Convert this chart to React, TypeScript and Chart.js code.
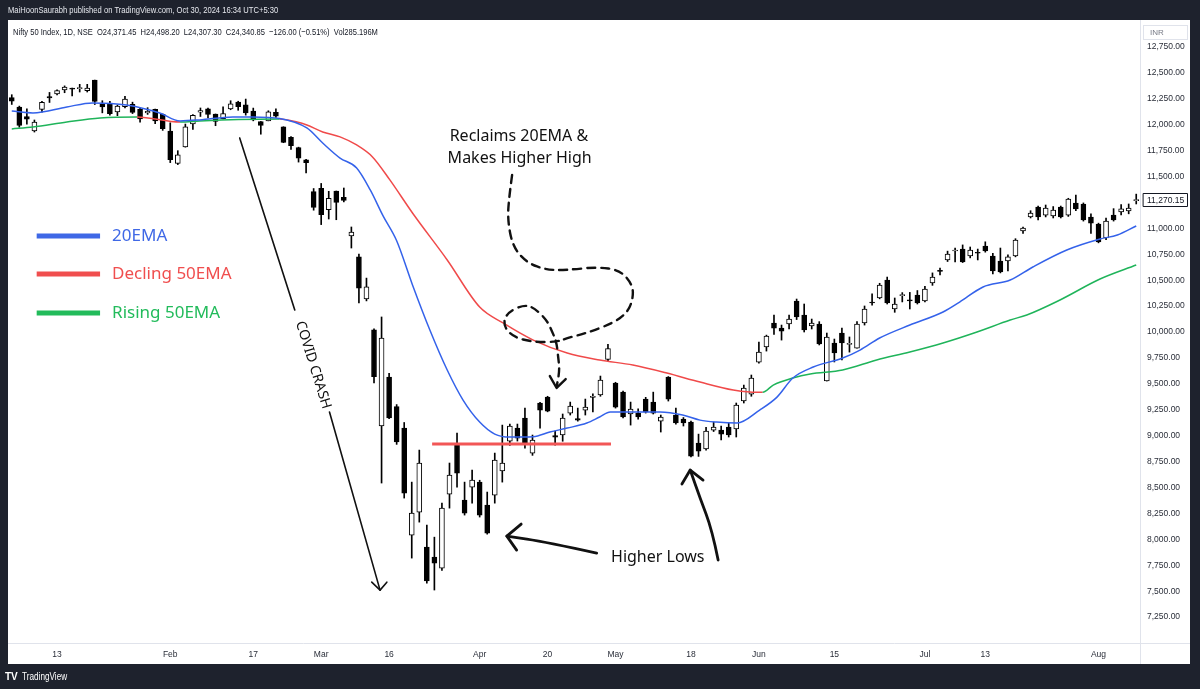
import React, { useEffect, useRef } from "react";
import { Chart, registerables } from "chart.js";

Chart.register(...registerables);

// ---- Daily candles, Nifty 50 (Jan 3 2020 .. Aug 10 2020), index = trading day ----
const opens = [
  12261, 12170, 12079, 11939, 12148, 12272, 12296, 12334, 12349, 12347, 12329, 12430, 12196, 12196, 12123, 12174, 12197, 12149, 12114, 12147,
  12100, 11939, 11627, 11786, 12006, 12120, 12152, 12102, 12058, 12151, 12219, 12191, 12131, 12029, 12037, 12119, 11980, 11877, 11779, 11660,
  11354, 11387, 11180, 11360, 11300, 10926, 10724, 10320, 10020, 9093, 9566, 9280, 9073, 8041, 8263, 7925, 7829, 7722, 8436, 8909,
  8378, 8504, 8552, 8330, 8427, 8659, 8948, 9073, 9170, 8832, 9315, 9372, 9000, 9006, 9218, 9165, 9247, 9370, 9392, 9735,
  9508, 9421, 9209, 9218, 9353, 9324, 9141, 9566, 9199, 9160, 9131, 8929, 8871, 9054, 9054, 9083, 9064, 9334, 9401, 9710,
  9855, 10087, 10038, 10077, 10299, 10164, 10058, 10077, 9527, 9894, 9990, 9880, 9845, 10087, 10285, 10328, 10500, 10222, 10350, 10305,
  10357, 10299, 10473, 10590, 10695, 10781, 10801, 10733, 10768, 10830, 10733, 10685, 10685, 10733, 10974, 11109, 11206, 11128, 11119, 11206,
  11128, 11244, 11235, 11109, 11042, 10907, 11128, 11158, 11167, 11268,
];
const highs = [
  12289, 12179, 12152, 12045, 12226, 12311, 12337, 12374, 12354, 12389, 12389, 12430, 12231, 12226, 12190, 12273, 12217, 12163, 12164, 12151,
  12103, 12018, 11749, 12006, 12098, 12161, 12160, 12103, 12172, 12231, 12226, 12247, 12160, 12031, 12134, 12152, 11980, 11884, 11783, 11665,
  11384, 11433, 11357, 11360, 11389, 11013, 10751, 10520, 10030, 10145, 9602, 9300, 9127, 8552, 8861, 8137, 8021, 8349, 8736, 9025,
  8552, 8668, 8570, 8456, 8832, 9102, 9112, 9112, 9266, 9006, 9322, 9380, 9044, 9209, 9324, 9266, 9353, 9404, 9575, 9880,
  9515, 9430, 9324, 9260, 9370, 9420, 9199, 9570, 9266, 9175, 9140, 9015, 9080, 9131, 9093, 9120, 9315, 9488, 9585, 9903,
  9970, 10164, 10067, 10164, 10318, 10270, 10125, 10100, 9990, 9932, 10038, 9952, 10100, 10251, 10367, 10470, 10530, 10328, 10380, 10382,
  10400, 10440, 10570, 10617, 10780, 10810, 10840, 10820, 10800, 10870, 10760, 10810, 10745, 10900, 11013, 11170, 11215, 11225, 11210, 11215,
  11290, 11320, 11245, 11140, 11050, 11100, 11190, 11230, 11235, 11330,
];
const lows = [
  12195, 11975, 12005, 11929, 12121, 12214, 12286, 12308, 12278, 12315, 12315, 12194, 12114, 12091, 12087, 12162, 12107, 12024, 12099, 12010,
  11945, 11634, 11615, 11783, 11953, 12079, 12066, 11990, 12055, 12144, 12139, 12092, 12037, 11908, 12037, 12071, 11826, 11761, 11639, 11535,
  11175, 11036, 11090, 11083, 11255, 10810, 10280, 10300, 9510, 8543, 9165, 8916, 8398, 7819, 8166, 7578, 7511, 7700, 8301, 8504,
  8234, 8349, 8215, 8050, 8349, 8552, 8905, 8948, 8880, 8810, 9073, 9230, 8909, 8946, 9199, 9140, 9199, 9230, 9380, 9715,
  9266, 9170, 9102, 9160, 9218, 9209, 9035, 9334, 9112, 9093, 8795, 8800, 8860, 9040, 8958, 8987, 8987, 9315, 9380, 9700,
  9816, 9976, 9922, 10029, 10120, 10000, 10029, 9875, 9527, 9711, 9730, 9806, 9845, 10067, 10260, 10320, 10270, 10190, 10290, 10222,
  10270, 10290, 10450, 10550, 10680, 10676, 10670, 10715, 10695, 10770, 10560, 10570, 10590, 10725, 10950, 11100, 11080, 11110, 11100, 11100,
  11115, 11170, 11070, 10950, 10860, 10890, 11070, 11130, 11140, 11235,
];
const closes = [
  12226, 11993, 12053, 12025, 12216, 12257, 12330, 12362, 12343, 12355, 12352, 12224, 12170, 12107, 12180, 12248, 12119, 12055, 12129, 12035,
  11962, 11662, 11708, 11980, 12089, 12137, 12098, 12031, 12108, 12201, 12174, 12113, 12046, 11993, 12125, 12081, 11829, 11798, 11678, 11633,
  11202, 11132, 11290, 11251, 11270, 10965, 10424, 10435, 9570, 9942, 9170, 8940, 8446, 8253, 8736, 7600, 7771, 8301, 8620, 8639,
  8253, 8571, 8234, 8060, 8765, 8736, 9093, 8977, 8929, 8958, 9247, 9237, 8985, 9170, 9286, 9150, 9276, 9380, 9537, 9840,
  9276, 9180, 9257, 9180, 9228, 9218, 9180, 9353, 9122, 9122, 8803, 8851, 9044, 9083, 9015, 9006, 9295, 9459, 9556, 9807,
  9961, 10038, 10009, 10125, 10145, 10019, 10087, 9884, 9952, 9797, 9894, 9886, 10077, 10222, 10280, 10453, 10280, 10270, 10360, 10300,
  10280, 10415, 10530, 10585, 10752, 10790, 10675, 10791, 10760, 10781, 10588, 10579, 10724, 10887, 11003, 11148, 11109, 11196, 11177, 11109,
  11283, 11187, 11080, 11051, 10868, 11071, 11080, 11187, 11196, 11270.15,
];

// ---- time axis ----
const tickIdx = [6, 21, 32, 41, 50, 62, 71, 80, 90, 99, 109, 121, 129, 144];
const tickText = ["13", "Feb", "17", "Mar", "16", "Apr", "20", "May", "18", "Jun", "15", "Jul", "13", "Aug"];

// ---- moving averages: [day index, price] ----
const ema20 = [
  [0, 12132], [2.8, 12113], [7.3, 12171], [10.7, 12210], [15.2, 12190], [19.6, 12113], [22.3, 12036], [24.9, 12046],
  [29.3, 12075], [31.9, 12075], [35.5, 12060], [39.1, 11968], [41.2, 11823], [43.5, 11678], [45.7, 11582], [47.5, 11370],
  [49.2, 11120], [51, 10880], [53.1, 10454], [55.4, 10019], [57.7, 9633], [59.8, 9343], [62, 9131], [64, 9015], [66, 8986],
  [69.1, 8990], [71.3, 9035], [73.6, 9073], [76.2, 9122], [77.9, 9180], [79.3, 9228], [82.3, 9228], [85.9, 9228], [88.9, 9199],
  [91.2, 9150], [93.4, 9131], [96.1, 9122], [99.1, 9247], [101.4, 9372], [103.5, 9556], [106.2, 9662], [110.1, 9749],
  [112.4, 9826], [115, 9942], [119, 10067], [123.4, 10193], [125.6, 10289], [128.7, 10434], [132.3, 10501], [135.3, 10627],
  [139.8, 10791], [144.2, 10897], [146.5, 10936], [149, 11023],
];
const ema50 = [
  [0, 11959], [2.8, 11978], [7.3, 12026], [11.7, 12065], [16.6, 12075], [22.3, 12026], [24.9, 12036], [30, 12050],
  [35.5, 12055], [37.8, 12026], [39.1, 11997], [41.2, 11930], [43.5, 11882], [45.7, 11804], [47.8, 11689], [50.1, 11467],
  [53.1, 11148], [57.7, 10695], [62, 10241], [65.1, 10087], [69.1, 9922], [73.6, 9797], [77.9, 9730], [82.3, 9681],
  [86.8, 9604], [91.2, 9517], [95.6, 9440], [97.8, 9421], [99.5, 9418], [100.9, 9488], [103.5, 9556], [105.8, 9595],
  [110.1, 9633], [114.6, 9730], [119, 9807], [123.4, 9894], [127.9, 10000], [132.3, 10116], [134.5, 10164], [138.9, 10309],
  [144.2, 10511], [149, 10646],
];

// ---- drawn-on annotations (day index, price) ----
const supportLine = { from: 55.7, to: 79.4, price: 8920 };
const legendItems = [
  { label: "20EMA", color: "#3f68e6", price: 10926 },
  { label: "Decling 50EMA", color: "#f04e4e", price: 10559 },
  { label: "Rising 50EMA", color: "#22bb5b", price: 10183 },
];
const dashedPath = [
  [66.3, 11515], [65.9, 11302], [65.7, 11081], [66.4, 10820], [68.3, 10666], [70.9, 10598], [73.6, 10598], [77.5, 10627],
  [80.6, 10598], [82.3, 10453], [82.3, 10309], [81.5, 10183], [79.7, 10087], [76.2, 9990], [73.6, 9942], [72.2, 9903],
  [69.1, 9903], [66.4, 9952], [65.1, 10067], [65.6, 10183], [67.7, 10260], [69.1, 10241], [70.9, 10116], [71.7, 9990],
  [72.2, 9894], [72.4, 9759], [72.6, 9633], [72.2, 9470],
];
const dashedHead = [[71.3, 9575], [72.2, 9460], [73.4, 9546]];
const crashUpper = [[30.2, 11872], [37.5, 10212]];
const crashLower = [[42.1, 9228], [48.8, 7510]];
const crashHead = [[47.7, 7587], [48.8, 7510], [49.7, 7587]];
const lowArrow1 = [[77.5, 7867], [70.9, 7973], [65.6, 8031]];
const lowHead1 = [[67.5, 8147], [65.6, 8031], [66.9, 7896]];
const lowArrow2 = [[93.6, 7800], [92.8, 8089], [91.2, 8398], [89.9, 8668]];
const lowHead2 = [[88.8, 8533], [89.9, 8668], [91.6, 8572]];

const BLUE = "#3462ea";
const RED = "#f04a4a";
const GREEN = "#1fb45a";
const UI = '"Liberation Sans", Arial, sans-serif';
const HAND = '"Noto Sans", sans-serif';

function condensedText(c: CanvasRenderingContext2D, text: string, x: number, y: number, sx: number) {
  c.save();
  c.translate(x, y);
  c.scale(sx, 1);
  c.fillText(text, 0, 0);
  c.restore();
}

const frame = {
  id: "frame",
  beforeDraw(chart: any) {
    const c = chart.ctx;
    c.save();
    c.fillStyle = "#1e222d";
    c.fillRect(0, 0, 1200, 689);
    c.fillStyle = "#ffffff";
    c.fillRect(8, 20, 1182, 644);
    c.fillStyle = "#e6e8ee";
    c.font = `9.5px ${UI}`;
    c.textBaseline = "middle";
    condensedText(c, "MaiHoonSaurabh published on TradingView.com, Oct 30, 2024 16:34 UTC+5:30", 8, 10, 0.8);
    c.fillStyle = "#131722";
    condensedText(
      c,
      "Nifty 50 Index, 1D, NSE  O24,371.45  H24,498.20  L24,307.30  C24,340.85  \u2212126.00 (\u22120.51%)  Vol285.196M",
      13,
      32,
      0.795
    );
    // axis separators
    c.strokeStyle = "#e0e3eb";
    c.lineWidth = 1;
    c.beginPath();
    c.moveTo(1140.5, 20);
    c.lineTo(1140.5, 664);
    c.moveTo(8, 643.5);
    c.lineTo(1190, 643.5);
    c.stroke();
    // currency box
    c.strokeStyle = "#e0e3eb";
    c.strokeRect(1143.5, 25.5, 44, 14);
    c.fillStyle = "#787b86";
    c.font = `8px ${UI}`;
    c.fillText("INR", 1150, 33);
    // footer
    c.fillStyle = "#ffffff";
    c.font = `bold 10px ${UI}`;
    c.fillText("TV", 5, 677);
    c.font = `10px ${UI}`;
    condensedText(c, "TradingView", 22, 677, 0.82);
    c.restore();
  },
};

function smooth(c: CanvasRenderingContext2D, pts: number[][]) {
  c.beginPath();
  c.moveTo(pts[0][0], pts[0][1]);
  for (let i = 1; i < pts.length - 1; i++) {
    const mx = (pts[i][0] + pts[i + 1][0]) / 2;
    const my = (pts[i][1] + pts[i + 1][1]) / 2;
    c.quadraticCurveTo(pts[i][0], pts[i][1], mx, my);
  }
  const l = pts[pts.length - 1];
  c.lineTo(l[0], l[1]);
  c.stroke();
}

function poly(c: CanvasRenderingContext2D, pts: number[][]) {
  c.beginPath();
  pts.forEach((p, i) => (i ? c.lineTo(p[0], p[1]) : c.moveTo(p[0], p[1])));
  c.stroke();
}

const annotations = {
  id: "annotations",
  afterDraw(chart: any) {
    const c: CanvasRenderingContext2D = chart.ctx;
    const xs = chart.scales.x;
    const ys = chart.scales.y;
    const P = (p: number[]) => [xs.getPixelForValue(p[0]), ys.getPixelForValue(p[1])];
    c.save();
    c.lineCap = "round";
    c.lineJoin = "round";

    // support line
    c.strokeStyle = "#f25656";
    c.lineWidth = 3;
    c.lineCap = "butt";
    poly(c, [P([supportLine.from, supportLine.price]), P([supportLine.to, supportLine.price])]);
    c.lineCap = "round";

    // legend
    legendItems.forEach((it) => {
      const [x0, y] = P([3.3, it.price]);
      const [x1] = P([11.7, it.price]);
      c.strokeStyle = it.color;
      c.lineWidth = 5;
      c.lineCap = "butt";
      poly(c, [[x0, y], [x1, y]]);
      c.fillStyle = it.color;
      c.font = `17px ${HAND}`;
      c.textBaseline = "middle";
      c.textAlign = "left";
      c.fillText(it.label, x1 + 12, y);
    });
    c.lineCap = "round";

    // texts
    c.fillStyle = "#111111";
    c.font = `16px ${HAND}`;
    c.textAlign = "center";
    c.textBaseline = "middle";
    let p = P([67.2, 11882]);
    c.fillText("Reclaims 20EMA &", p[0], p[1]);
    p = P([67.3, 11679]);
    c.fillText("Makes Higher High", p[0], p[1]);
    p = P([85.6, 7829]);
    c.fillText("Higher Lows", p[0], p[1]);

    // COVID CRASH line + text
    c.strokeStyle = "#111111";
    c.lineWidth = 1.6;
    const u = crashUpper.map(P);
    const l = crashLower.map(P);
    poly(c, u);
    poly(c, l);
    poly(c, crashHead.map(P));
    const ang = Math.atan2(l[1][1] - u[0][1], l[1][0] - u[0][0]);
    const cx = (u[1][0] + l[0][0]) / 2 + 1;
    const cy = (u[1][1] + l[0][1]) / 2 + 4;
    c.save();
    c.translate(cx, cy);
    c.rotate(ang);
    c.font = `14px ${HAND}`;
    c.fillText("COVID CRASH", 0, 0);
    c.restore();

    // dashed loop arrow
    c.lineWidth = 2.4;
    c.setLineDash([8, 6]);
    smooth(c, dashedPath.map(P));
    c.setLineDash([]);
    poly(c, dashedHead.map(P));

    // higher lows arrows
    c.lineWidth = 2.8;
    smooth(c, lowArrow1.map(P));
    poly(c, lowHead1.map(P));
    smooth(c, lowArrow2.map(P));
    poly(c, lowHead2.map(P));

    // last price label
    const last = closes[closes.length - 1];
    const ly = ys.getPixelForValue(last);
    c.fillStyle = "#ffffff";
    c.fillRect(1143, ly - 7, 45, 14);
    c.strokeStyle = "#131722";
    c.lineWidth = 1;
    c.strokeRect(1143.5, Math.round(ly - 7) + 0.5, 44, 13);
    c.fillStyle = "#131722";
    c.font = `8.5px ${UI}`;
    c.textAlign = "left";
    c.fillText(last.toLocaleString("en-US", { minimumFractionDigits: 2 }), 1147, Math.round(ly) + 0.5);
    c.restore();
  },
};

export default function App() {
  const ref = useRef<HTMLCanvasElement>(null);
  useEffect(() => {
    const canvas = ref.current!;
    const bodyColors = opens.map((o, i) => (closes[i] >= o ? "#ffffff" : "#000000"));
    const chart = new Chart(canvas, {
      type: "bar",
      data: {
        datasets: [
          {
            type: "line",
            label: "20EMA",
            data: ema20.map(([x, y]) => ({ x, y })),
            borderColor: BLUE,
            borderWidth: 1.5,
            pointRadius: 0,
            cubicInterpolationMode: "monotone",
            order: 0,
          } as any,
          {
            type: "line",
            label: "50EMA",
            data: ema50.map(([x, y]) => ({ x, y })),
            borderColor: RED,
            borderWidth: 1.5,
            pointRadius: 0,
            cubicInterpolationMode: "monotone",
            segment: {
              borderColor: (ctx: any) => (ctx.p1.parsed.y >= ctx.p0.parsed.y ? GREEN : RED),
            },
            order: 0,
          } as any,
          {
            type: "bar",
            label: "body",
            data: opens.map((o, i) => ({ x: i, y: [o, closes[i]] })),
            backgroundColor: bodyColors,
            borderColor: "#000000",
            borderWidth: 1,
            borderSkipped: false,
            barThickness: 5,
            minBarLength: 1,
            grouped: false,
            order: 1,
          } as any,
          {
            type: "bar",
            label: "wick",
            data: lows.map((lo, i) => ({ x: i, y: [lo, highs[i]] })),
            backgroundColor: "#000000",
            borderWidth: 0,
            barThickness: 1,
            grouped: false,
            order: 2,
          } as any,
        ],
      },
      options: {
        responsive: false,
        animation: false,
        devicePixelRatio: 1,
        events: [],
        layout: { padding: { left: 8, right: 10, top: 21, bottom: 24 } },
        plugins: { legend: { display: false }, tooltip: { enabled: false } },
        scales: {
          x: {
            type: "linear",
            min: -0.5,
            max: 149.5,
            offset: false,
            grid: { display: false, drawTicks: false },
            border: { display: false },
            afterBuildTicks: (s: any) => {
              s.ticks = tickIdx.map((v) => ({ value: v }));
            },
            afterFit: (s: any) => {
              s.height = 22;
              s.paddingLeft = 0;
              s.paddingRight = 0;
            },
            ticks: {
              autoSkip: false,
              maxRotation: 0,
              padding: 7,
              color: "#2a2e39",
              font: { size: 8.5, family: UI },
              callback: (v: any) => {
                const k = tickIdx.indexOf(Number(v));
                return k >= 0 ? tickText[k] : "";
              },
            },
          },
          y: {
            type: "linear",
            position: "right",
            min: 7000,
            max: 13000,
            beginAtZero: false,
            grid: { display: false, drawTicks: false },
            border: { display: false },
            afterFit: (s: any) => {
              s.width = 50;
              s.paddingTop = 0;
              s.paddingBottom = 0;
            },
            ticks: {
              stepSize: 250,
              autoSkip: false,
              padding: 7,
              color: "#2a2e39",
              font: { size: 8.5, family: UI },
              callback: (v: any) =>
                v <= 7000 || v >= 13000
                  ? ""
                  : Number(v).toLocaleString("en-US", { minimumFractionDigits: 2, maximumFractionDigits: 2 }),
            },
          },
        },
      } as any,
      plugins: [frame, annotations],
    });
    return () => chart.destroy();
  }, []);
  return (
    <div style={{ position: "fixed", left: 0, top: 0, width: 1200, height: 689, background: "#1e222d" }}>
      <canvas ref={ref} width={1200} height={689} style={{ display: "block", width: 1200, height: 689 }} />
    </div>
  );
}
